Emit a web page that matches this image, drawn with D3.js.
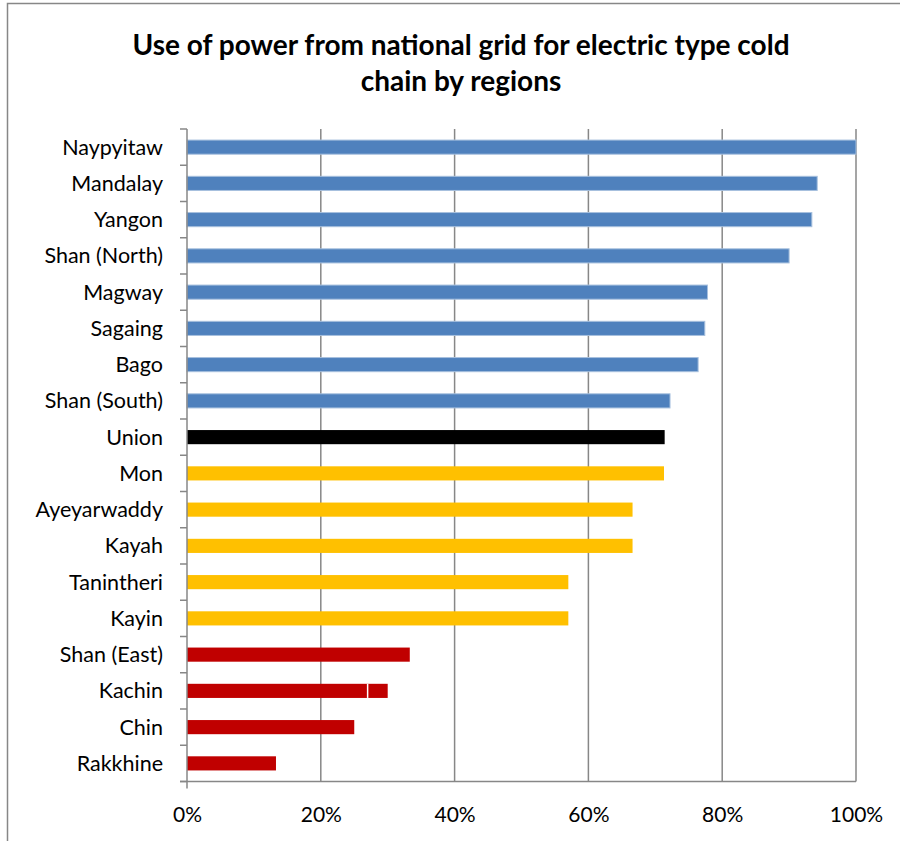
<!DOCTYPE html>
<html>
<head>
<meta charset="utf-8">
<script src="https://cdn.jsdelivr.net/npm/d3@7"></script>
<style>
  body { margin: 0; background: #fff; }
  svg text { font-family: Lato, "Open Sans", sans-serif; fill: #000; }
</style>
</head>
<body>
<div id="wrapper"></div>
<script>
// data
const regions = ["Naypyitaw", "Mandalay", "Yangon", "Shan (North)", "Magway", "Sagaing", "Bago",
  "Shan (South)", "Union", "Mon", "Ayeyarwaddy", "Kayah", "Tanintheri", "Kayin",
  "Shan (East)", "Kachin", "Chin", "Rakkhine"]
const shares = [1.0, 0.942, 0.934, 0.90, 0.778, 0.774, 0.764, 0.722, 0.714, 0.713, 0.666, 0.666,
  0.570, 0.570, 0.333, 0.30, 0.25, 0.133]
const groups = ["high", "high", "high", "high", "high", "high", "high", "high", "union",
  "mid", "mid", "mid", "mid", "mid", "low", "low", "low", "low"]
const xTicks = [0, 0.2, 0.4, 0.6, 0.8, 1.0]
// white split line seen inside the Kachin bar
const kachinSplit = 0.27

const colors = { high: "#4f81bd", union: "#000000", mid: "#ffc000", low: "#c00000" }

const dataset = regions.map((r, i) => ({ region: r, value: shares[i], group: groups[i] }))

const dimensions = {
  width: 900,
  height: 841,
  margin: { top: 129, right: 44, bottom: 60, left: 187 }
}
dimensions.boundedWidth = dimensions.width - dimensions.margin.left - dimensions.margin.right
dimensions.boundedHeight = 781.5 - dimensions.margin.top

const wrapper = d3.select("#wrapper")
  .append("svg")
  .attr("width", dimensions.width)
  .attr("height", dimensions.height)

// chart frame
wrapper.append("rect")
  .attr("x", 7.5).attr("y", 3.5)
  .attr("width", 1000).attr("height", 1000)
  .attr("fill", "none")
  .attr("stroke", "#878787")
  .attr("stroke-width", 1.5)

wrapper.append("text")
  .attr("x", 461).attr("y", 55)
  .attr("text-anchor", "middle")
  .attr("font-size", "28px")
  .attr("font-weight", "bold")
  .text("Use of power from national grid for electric type cold")
wrapper.append("text")
  .attr("x", 461).attr("y", 91)
  .attr("text-anchor", "middle")
  .attr("font-size", "28px")
  .attr("font-weight", "bold")
  .text("chain by regions")

const bounds = wrapper.append("g")
  .attr("transform", `translate(${dimensions.margin.left}, ${dimensions.margin.top})`)

const xScale = d3.scaleLinear()
  .domain([0, 1])
  .range([0, dimensions.boundedWidth])

const yScale = d3.scaleBand()
  .domain(regions)
  .range([0, dimensions.boundedHeight])
  .paddingInner(0.61)
  .paddingOuter(0.305)

// gridlines
bounds.selectAll(".grid")
  .data(xTicks.slice(1))
  .join("line")
  .attr("x1", d => xScale(d)).attr("x2", d => xScale(d))
  .attr("y1", 0).attr("y2", dimensions.boundedHeight)
  .attr("stroke", "#878787")
  .attr("stroke-width", 1.5)

// bars
bounds.selectAll(".bar")
  .data(dataset)
  .join("rect")
  .attr("x", 0)
  .attr("y", d => yScale(d.region))
  .attr("width", d => xScale(d.value))
  .attr("height", yScale.bandwidth())
  .attr("fill", d => colors[d.group])
  .attr("stroke", d => d.group == "high" ? "#a7c0de" : "none")
  .attr("stroke-width", 1)

bounds.append("line")
  .attr("x1", xScale(kachinSplit)).attr("x2", xScale(kachinSplit))
  .attr("y1", yScale("Kachin")).attr("y2", yScale("Kachin") + yScale.bandwidth())
  .attr("stroke", "#fff")
  .attr("stroke-width", 1.5)

// axes
const yAxisGenerator = d3.axisLeft(yScale)
  .tickSize(0)
  .tickPadding(24)
const yAxis = bounds.append("g").call(yAxisGenerator)
yAxis.select(".domain").remove()
yAxis.selectAll("text").attr("font-size", "21.5px").attr("dy", "0.35em")

// y tick marks between categories
const step = yScale.step()
bounds.selectAll(".ytick")
  .data(d3.range(regions.length + 1))
  .join("line")
  .attr("x1", -7).attr("x2", 0)
  .attr("y1", i => i * step).attr("y2", i => i * step)
  .attr("stroke", "#878787")
  .attr("stroke-width", 1.5)

bounds.append("line")
  .attr("x1", 0).attr("x2", 0)
  .attr("y1", 0).attr("y2", dimensions.boundedHeight + 7)
  .attr("stroke", "#878787")
  .attr("stroke-width", 1.5)

const xAxisGenerator = d3.axisBottom(xScale)
  .tickValues(xTicks)
  .tickFormat(d3.format(".0%"))
  .tickSize(0)
  .tickPadding(26)
const xAxis = bounds.append("g")
  .attr("transform", `translate(0, ${dimensions.boundedHeight})`)
  .call(xAxisGenerator)
xAxis.select(".domain").remove()
xAxis.selectAll("text").attr("font-size", "21px")

bounds.append("line")
  .attr("x1", -7).attr("x2", dimensions.boundedWidth)
  .attr("y1", dimensions.boundedHeight).attr("y2", dimensions.boundedHeight)
  .attr("stroke", "#878787")
  .attr("stroke-width", 1.5)
</script>
</body>
</html>
